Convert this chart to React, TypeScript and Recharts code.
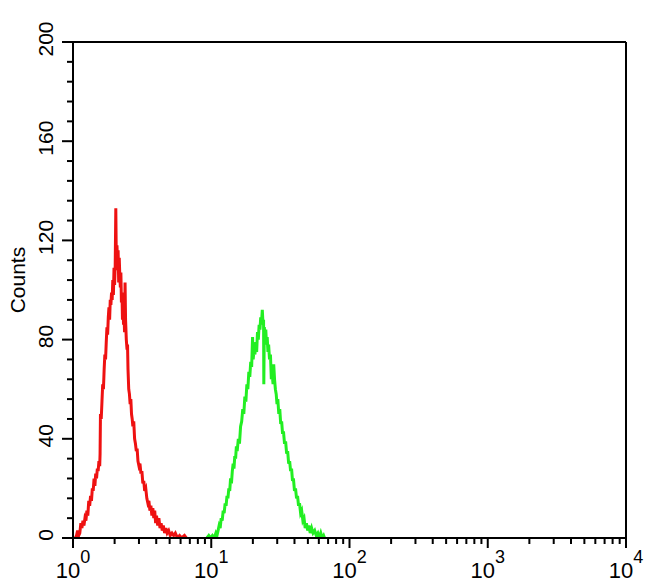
import React from 'react'
import { LineChart, Line, XAxis, YAxis, ReferenceLine } from 'recharts'

// fluorescence intensity (log) vs counts
const redX = [1.04, 1.06, 1.08, 1.1, 1.12, 1.14, 1.16, 1.18, 1.2, 1.22, 1.24, 1.26, 1.28, 1.3, 1.32, 1.34, 1.36, 1.38, 1.4, 1.42, 1.44, 1.46, 1.48, 1.5, 1.52, 1.54, 1.56, 1.57, 1.58, 1.6, 1.62, 1.64, 1.66, 1.68, 1.7, 1.72, 1.74, 1.76, 1.78, 1.8, 1.82, 1.84, 1.86, 1.88, 1.9, 1.92, 1.94, 1.96, 1.98, 2.0, 2.02, 2.04, 2.06, 2.08, 2.1, 2.12, 2.14, 2.16, 2.18, 2.2, 2.22, 2.24, 2.26, 2.28, 2.3, 2.32, 2.34, 2.36, 2.38, 2.4, 2.43, 2.46, 2.48, 2.5, 2.53, 2.56, 2.59, 2.62, 2.65, 2.68, 2.71, 2.75, 2.79, 2.83, 2.87, 2.91, 2.95, 3.0, 3.05, 3.1, 3.15, 3.2, 3.25, 3.3, 3.36, 3.42, 3.48, 3.54, 3.6, 3.66, 3.72, 3.78, 3.84, 3.9, 3.96, 4.02, 4.1, 4.18, 4.26, 4.34, 4.42, 4.5, 4.6, 4.7, 4.8, 4.92, 5.05, 5.2, 5.35, 5.5, 5.7, 5.9, 6.1, 6.4, 6.6]
const redCounts = [0, 1, 3, 1, 2, 6, 4, 7, 5, 8, 7, 11, 9, 15, 13, 17, 15, 20, 19, 24, 21, 26, 24, 28, 27, 31, 29, 34, 50, 48, 55, 62, 60, 68, 74, 72, 79, 85, 82, 89, 93, 88, 96, 94, 99, 96, 104, 98, 109, 102, 110, 133, 108, 118, 111, 116, 103, 113, 106, 101, 107, 95, 99, 88, 94, 86, 90, 83, 103, 88, 80, 76, 78, 68, 60, 58, 54, 56, 50, 48, 45, 47, 40, 38, 35, 36, 31, 29, 30, 26, 27, 22, 23, 19, 20, 16, 14, 15, 11, 13, 9, 12, 8, 11, 6, 9, 5, 8, 4, 6, 3, 5, 2, 4, 2, 3, 1, 2, 1, 2, 0, 1, 0, 1, 0]

const greenX = [9.3, 9.6, 9.9, 10.2, 10.5, 10.8, 11.0, 11.2, 11.4, 11.6, 11.8, 12.0, 12.2, 12.4, 12.6, 12.8, 13.0, 13.2, 13.4, 13.6, 13.8, 14.0, 14.2, 14.4, 14.6, 14.8, 15.0, 15.2, 15.4, 15.7, 16.0, 16.3, 16.6, 16.9, 17.2, 17.5, 17.8, 18.1, 18.4, 18.7, 19.0, 19.3, 19.6, 19.9, 20.1, 20.4, 20.7, 21.0, 21.3, 21.6, 21.9, 22.2, 22.5, 22.8, 23.1, 23.4, 23.7, 23.9, 24.0, 24.2, 24.5, 24.8, 25.1, 25.4, 25.7, 26.0, 26.4, 26.8, 27.2, 27.6, 28.0, 28.3, 28.7, 29.1, 29.5, 29.9, 30.3, 30.8, 31.3, 31.8, 32.3, 32.8, 33.3, 33.9, 34.5, 35.1, 35.7, 36.3, 36.9, 37.5, 38.1, 38.7, 39.3, 40.0, 40.7, 41.4, 42.1, 42.8, 43.5, 44.3, 45.1, 46.0, 46.9, 47.8, 48.8, 49.8, 50.8, 52.0, 53.2, 54.5, 56.0, 57.5, 59.0, 60.5, 62.0, 63.5, 65.0, 66.0]
const greenCounts = [0, 1, 0, 1, 0, 2, 1, 3, 5, 4, 8, 7, 11, 10, 14, 13, 17, 16, 20, 19, 24, 22, 27, 30, 28, 33, 32, 37, 35, 40, 38, 45, 47, 52, 50, 57, 55, 62, 60, 67, 65, 71, 69, 81, 72, 76, 74, 79, 75, 83, 80, 86, 84, 89, 87, 92, 86, 88, 62, 85, 80, 84, 78, 81, 75, 78, 72, 74, 64, 66, 62, 70, 64, 60, 58, 54, 56, 50, 52, 46, 47, 42, 43, 38, 39, 34, 35, 30, 31, 27, 28, 23, 24, 19, 20, 16, 17, 13, 14, 10, 11, 7, 8, 4, 6, 3, 5, 2, 4, 2, 3, 1, 2, 0, 2, 0, 1, 0]

const xTicks = [1, 2, 3, 4, 5, 6, 7, 8, 9, 10, 20, 30, 40, 50, 60, 70, 80, 90, 100, 200, 300, 400, 500, 600, 700, 800, 900, 1000, 2000, 3000, 4000, 5000, 6000, 7000, 8000, 9000, 10000]
const xMajor = [1, 10, 100, 1000, 10000]
const xExponents = ['0', '1', '2', '3', '4']

const yTicks = [0, 8, 16, 24, 32, 40, 48, 56, 64, 72, 80, 88, 96, 104, 112, 120, 128, 136, 144, 152, 160, 168, 176, 184, 192, 200]
const yMajor = [0, 40, 80, 120, 160, 200]

const redData = redX.map((x, i) => ({ x, y: redCounts[i] }))
const greenData = greenX.map((x, i) => ({ x, y: greenCounts[i] }))

const FONT = '"Liberation Sans", Arial, sans-serif'

function XTick({ x, y, payload }: any) {
  const idx = xMajor.indexOf(payload.value)
  const major = idx >= 0
  return (
    <g>
      <line x1={x} y1={y} x2={x} y2={y + (major ? 10 : 6)} stroke="#000" strokeWidth={2} />
      {major && (
        <text x={x} y={y + 40} textAnchor="middle" fontFamily={FONT} fontSize={22} fill="#000">
          <tspan>10</tspan>
          <tspan dy={-15} fontSize={18}>{xExponents[idx]}</tspan>
        </text>
      )}
    </g>
  )
}

function YTick({ x, y, payload }: any) {
  const major = yMajor.includes(payload.value)
  const lx = x - 20
  const ly = y - 3
  return (
    <g>
      <line x1={x} y1={y} x2={x - (major ? 11 : 6)} y2={y} stroke="#000" strokeWidth={2} />
      {major && (
        <text x={lx} y={ly} transform={`rotate(-90, ${lx}, ${ly})`} textAnchor="middle"
          fontFamily={FONT} fontSize={21} fill="#000">
          {payload.value}
        </text>
      )}
    </g>
  )
}

function CountsLabel({ viewBox }: any) {
  const lx = viewBox.x + 25
  const ly = viewBox.y + viewBox.height * 0.48
  return (
    <text x={lx} y={ly} transform={`rotate(-90, ${lx}, ${ly})`} textAnchor="middle"
      fontFamily={FONT} fontSize={21} fill="#000">
      Counts
    </text>
  )
}

export default function App() {
  return (
    <div style={{ position: 'absolute', left: 0, top: 0, width: 650, height: 585, background: '#fff' }}>
      <LineChart width={650} height={585} margin={{ top: 42, right: 24, bottom: 0, left: 0 }}>
        <XAxis
          dataKey="x" type="number" scale="log" domain={[1, 10000]} allowDataOverflow
          ticks={xTicks} interval={0} tick={<XTick />} tickLine={false}
          tickSize={0} tickMargin={0} height={47}
          axisLine={{ stroke: '#000', strokeWidth: 2 }}
        />
        <YAxis
          dataKey="y" type="number" domain={[0, 200]} allowDataOverflow
          ticks={yTicks} interval={0} tick={<YTick />} tickLine={false}
          tickSize={0} tickMargin={0} width={73}
          axisLine={{ stroke: '#000', strokeWidth: 2 }}
          label={<CountsLabel />}
        />
        <ReferenceLine y={200} stroke="#000" strokeWidth={2} />
        <ReferenceLine x={10000} stroke="#000" strokeWidth={2} />
        <Line data={redData} dataKey="y" type="linear" stroke="#ee1111" strokeWidth={3}
          dot={false} isAnimationActive={false} />
        <Line data={greenData} dataKey="y" type="linear" stroke="#22ee22" strokeWidth={3}
          dot={false} isAnimationActive={false} />
      </LineChart>
    </div>
  )
}
